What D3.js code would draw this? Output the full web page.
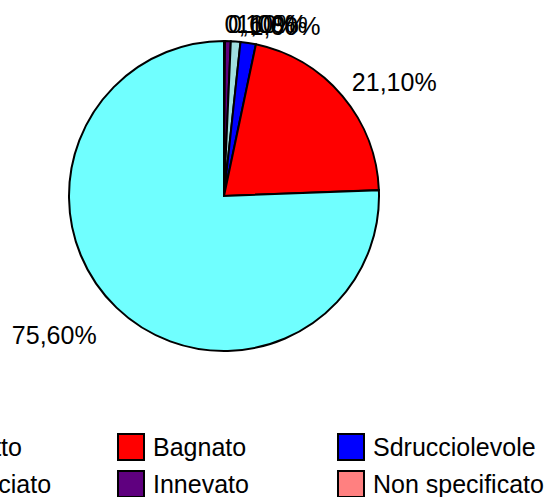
<!DOCTYPE html>
<html>
<head>
<meta charset="utf-8">
<title>Condizioni del fondo stradale</title>
<script src="https://cdn.jsdelivr.net/npm/d3@7/dist/d3.min.js"></script>
<style>
  body { margin: 0; background: #fff; }
  svg text { font-family: Arial, "Liberation Sans", sans-serif; font-size: 25px; fill: #000; }
  .slice, .key { stroke: #000; stroke-width: 2px; }
</style>
</head>
<body>
<div id="chart"></div>
<script>
// legend order
var categories = ["Asciutto", "Bagnato", "Sdrucciolevole", "Ghiacciato", "Innevato", "Non specificato"];
var values = [75.6, 21.1, 1.6, 1.0, 0.6, 0.1];
var labels = ["75,60%", "21,10%", "1,60%", "1,00%", "0,60%", "0,10%"];
var colors = ["#70FFFF", "#FF0000", "#0000FF", "#A0E0E0", "#5F007F", "#FF8080"];

var width = 550, height = 497;
var cx = 224, cy = 196, radius = 155;

var svg = d3.select("#chart").append("svg")
    .attr("width", width)
    .attr("height", height);

// slices go clockwise from 12 o'clock, last category first
var rows = categories.map(function(c, i) {
  return { name: c, value: values[i], label: labels[i], color: colors[i] };
}).reverse();

var pie = d3.pie().sort(null).value(function(d) { return d.value; });
var arc = d3.arc().innerRadius(0).outerRadius(radius);
var arcs = pie(rows);

var g = svg.append("g").attr("transform", "translate(" + cx + "," + cy + ")");

g.selectAll(".slice")
    .data(arcs)
  .enter().append("path")
    .attr("class", "slice")
    .attr("d", arc)
    .attr("fill", function(d) { return d.data.color; });

// labels outside, left/right aligned like excel (a bit further out lower down)
var capH = 18;
g.selectAll(".lbl")
    .data(arcs)
  .enter().append("text")
    .attr("class", "lbl")
    .each(function(d) {
      var a = (d.startAngle + d.endAngle) / 2;
      var s = Math.sin(a), c = Math.cos(a);
      var r = radius + 8 + 24 * (1 - c) / 2;
      var px = s * r, py = -c * r;
      d3.select(this)
        .attr("x", px)
        .attr("y", py - c * capH / 2 + capH / 2)
        .attr("text-anchor", s >= 0 ? "start" : "end")
        .text(d.data.label);
    });

// legend, 3 columns x 2 rows
var colX = d3.scalePoint().domain([0, 1, 2]).range([-102, 338]);
var rowY = d3.scalePoint().domain([0, 1]).range([434, 471]);
var box = 26;

var key = svg.selectAll(".legend")
    .data(categories)
  .enter().append("g")
    .attr("transform", function(d, i) {
      return "translate(" + colX(i % 3) + "," + rowY(Math.floor(i / 3)) + ")";
    });

key.append("rect")
    .attr("class", "key")
    .attr("width", box)
    .attr("height", box)
    .attr("fill", function(d, i) { return colors[i]; });

key.append("text")
    .attr("x", box + 9)
    .attr("y", box / 2)
    .attr("dy", "0.36em")
    .text(function(d) { return d; });
</script>
</body>
</html>
